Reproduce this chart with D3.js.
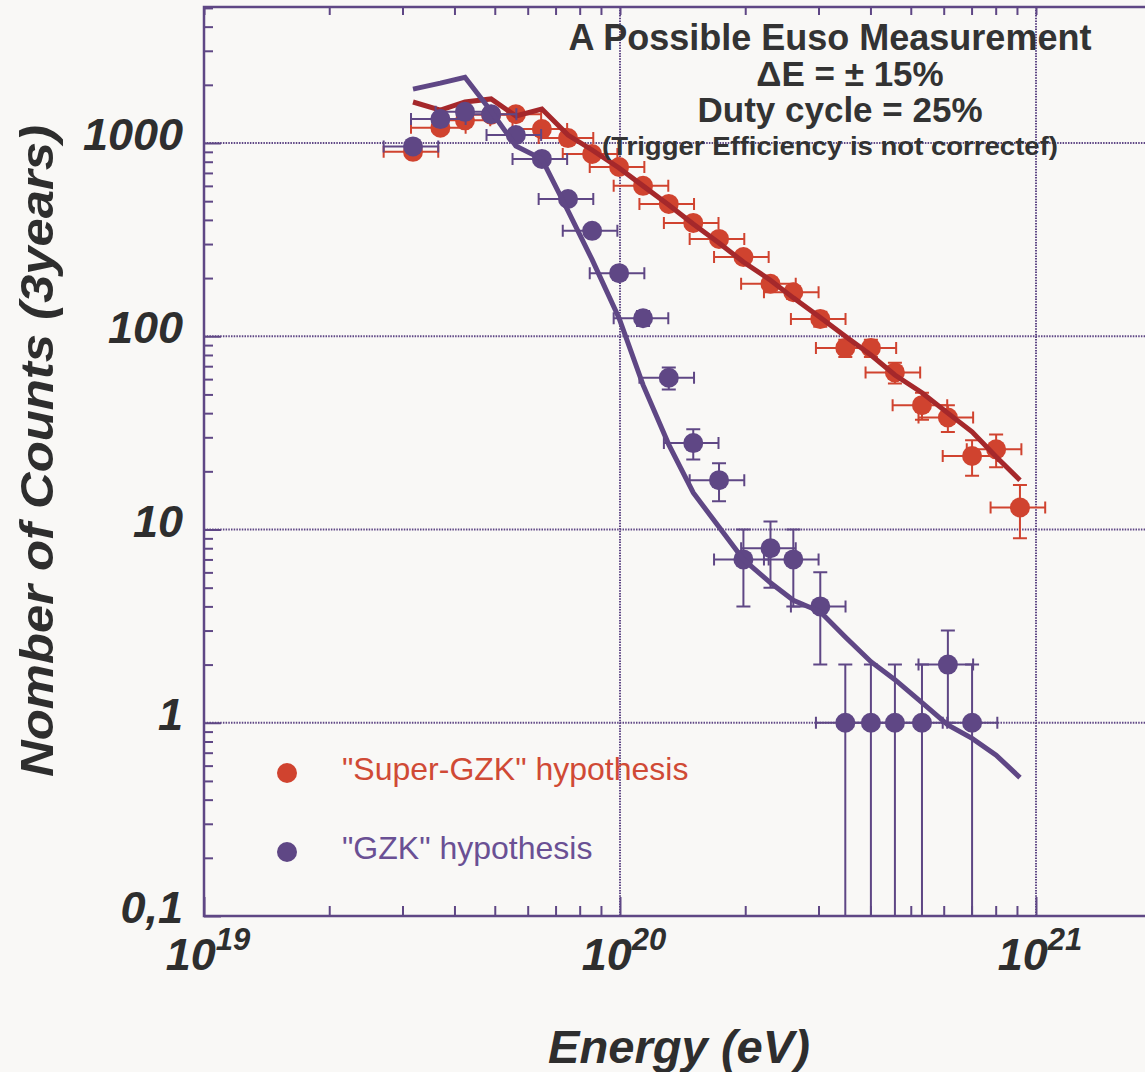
<!DOCTYPE html>
<html>
<head>
<meta charset="utf-8">
<script src="https://cdn.jsdelivr.net/npm/d3@7"></script>
<style>
    body { margin: 0; background: #f9f8f6; }
    svg { display: block; }
    text { font-family: "Liberation Sans", Arial, Helvetica, sans-serif; }
</style>
</head>
<body>
<svg id="chart" width="1145" height="1072"></svg>
<script>
// energy bins (eV)
const energyBins = [3.18e19, 3.70e19, 4.24e19, 4.90e19, 5.62e19, 6.49e19, 7.50e19, 8.57e19, 9.95e19,
    1.136e20, 1.31e20, 1.50e20, 1.73e20, 1.98e20, 2.30e20, 2.61e20, 3.03e20, 3.48e20, 4.01e20,
    4.58e20, 5.32e20, 6.14e20, 7.02e20, 8.02e20, 9.15e20];
// horizontal bars: dE = +-15%
const energyRes = [0.85, 1.15];

const superGzkCounts = [900, 1200, 1310, 1400, 1410, 1180, 1060, 877, 751, 600, 484, 386, 319,
    257, 187, 169, 123, 87, 87, 65, 44, 38, 24, 26, 13];
const superGzkErr = [30, 35, 36, 37, 38, 34, 33, 30, 27, 24, 22, 20, 18, 16, 14, 13, 11, 9, 9,
    8, 7, 6, 5, 5, 4];
const superGzkModel = [1630, 1480, 1630, 1690, 1380, 1500, 1100, 920, 742, 600, 478, 381, 304,
    242, 195, 158, 125, 100, 80, 63, 51, 40, 32, 23.8, 18];

const gzkCounts = [960, 1330, 1450, 1410, 1100, 827, 513, 351, 212, 124, 61, 28, 18, 7, 8, 7,
    4, 1, 1, 1, 1, 2, 1];
const gzkErr = [31, 36, 38, 38, 33, 29, 23, 19, 15, 11, 8, 5, 4, 3, 3, 3, 2, 1, 1, 1, 1, 1, 1];
const gzkModel = [1900, 2040, 2190, 1460, 965, 826, 445, 249, 124, 56, 27.5, 15.5, 10.3, 7.0,
    5.3, 4.3, 3.75, 2.78, 2.07, 1.67, 1.27, 0.975, 0.83, 0.68, 0.52];

const yTickValues = [0.1, 1, 10, 100, 1000];
const yTickLabels = ['0,1', '1', '10', '100', '1000'];
const xTickValues = [1e19, 1e20, 1e21];
const xTickExponents = ['19', '20', '21'];

const titleLines = ['A Possible Euso Measurement', '\u0394E = \u00b1 15%', 'Duty cycle = 25%'];
const noteText = '(Trigger Efficiency is not correctef)';
const legendLabels = ['"Super-GZK" hypothesis', '"GZK" hypothesis'];

const W = 1145, H = 1072;
const plotLeft = 204, plotTop = 7, plotBottom = 916;

const purple = '#5f4785';
const red = '#d0432f';
const darkRed = '#a5282b';
const ink = '#2e2e2e';

const svg = d3.select('#chart');

const x = d3.scaleLog().domain([1e19, 1e21]).range([204, 1036]);
const y = d3.scaleLog().domain([0.1, 1000]).range([916, 143]);

const isMajor = v => Math.abs(Math.log10(v) - Math.round(Math.log10(v))) < 1e-6;

// minor + major tick values
let xTicks = [];
for (let d = 19; d <= 21; d++) {
    for (let k = 1; k <= 9; k++) {
        let v = k * Math.pow(10, d);
        if (x(v) <= W) xTicks.push(v);
    }
}
let yTicks = [];
for (let d = -1; d <= 3; d++) {
    for (let k = 1; k <= 9; k++) {
        let v = k * Math.pow(10, d);
        if (y(v) >= plotTop) yTicks.push(v);
    }
}

// dotted grid
svg.append('g')
    .selectAll('line')
    .data(yTickValues.filter(v => v > 0.1))
    .join('line')
    .attr('x1', plotLeft).attr('x2', W)
    .attr('y1', d => y(d)).attr('y2', d => y(d))
    .attr('stroke', purple).attr('stroke-width', 2)
    .attr('stroke-dasharray', '1.5,1.2');

svg.append('g')
    .selectAll('line')
    .data(xTickValues.filter(v => v > 1e19))
    .join('line')
    .attr('x1', d => x(d)).attr('x2', d => x(d))
    .attr('y1', plotTop).attr('y2', plotBottom)
    .attr('stroke', purple).attr('stroke-width', 2)
    .attr('stroke-dasharray', '1.5,1.2');

// axes (ticks pointing inward)
let bottomAxis = svg.append('g')
    .attr('transform', `translate(0,${plotBottom})`)
    .call(d3.axisBottom(x).tickValues(xTicks).tickSizeInner(-10).tickSizeOuter(0).tickFormat(''));
bottomAxis.selectAll('.tick line').attr('y2', d => isMajor(d) ? -19 : -10);

let topAxis = svg.append('g')
    .attr('transform', `translate(0,${plotTop})`)
    .call(d3.axisTop(x).tickValues(xTicks).tickSizeInner(-8).tickSizeOuter(0).tickFormat(''));

let leftAxis = svg.append('g')
    .attr('transform', `translate(${plotLeft},0)`)
    .call(d3.axisLeft(y).tickValues(yTicks).tickSizeInner(-9).tickSizeOuter(0).tickFormat(''));
leftAxis.selectAll('.tick line').attr('x2', d => isMajor(d) ? 17 : 9);

[bottomAxis, topAxis, leftAxis].forEach(a => {
    a.select('.domain').remove();
    a.selectAll('.tick line').attr('stroke', purple).attr('stroke-width', 2);
});

// frame lines
svg.append('path')
    .attr('d', `M${W},${plotTop}H${plotLeft}V${plotBottom}H${W}`)
    .attr('fill', 'none')
    .attr('stroke', purple)
    .attr('stroke-width', 2.5);

// tick labels
svg.append('g')
    .selectAll('text')
    .data(yTickValues)
    .join('text')
    .attr('x', 183)
    .attr('y', d => y(d) + 7)
    .attr('text-anchor', 'end')
    .attr('font-size', 45)
    .attr('font-weight', 'bold')
    .attr('font-style', 'italic')
    .attr('fill', ink)
    .text((d, i) => yTickLabels[i]);

let xLabels = svg.append('g')
    .selectAll('text')
    .data(xTickValues)
    .join('text')
    .attr('x', d => x(d) + 4)
    .attr('y', 970)
    .attr('text-anchor', 'middle')
    .attr('font-size', 45)
    .attr('font-weight', 'bold')
    .attr('font-style', 'italic')
    .attr('fill', ink);
xLabels.append('tspan').text('10');
xLabels.append('tspan')
    .attr('dy', -20)
    .attr('font-size', 31)
    .text((d, i) => xTickExponents[i]);

// axis titles
svg.append('text')
    .attr('transform', 'translate(53,451) rotate(-90)')
    .attr('text-anchor', 'middle')
    .attr('font-size', 46)
    .attr('font-weight', 'bold')
    .attr('font-style', 'italic')
    .attr('fill', ink)
    .attr('textLength', 652)
    .attr('lengthAdjust', 'spacingAndGlyphs')
    .text('Nomber of Counts (3years)');

svg.append('text')
    .attr('x', 548)
    .attr('y', 1063)
    .attr('font-size', 46)
    .attr('font-weight', 'bold')
    .attr('font-style', 'italic')
    .attr('fill', ink)
    .attr('textLength', 262)
    .attr('lengthAdjust', 'spacingAndGlyphs')
    .text('Energy (eV)');

// plot area clip
svg.append('clipPath').attr('id', 'plotClip')
    .append('rect')
    .attr('x', plotLeft).attr('y', plotTop)
    .attr('width', W - plotLeft).attr('height', plotBottom - plotTop);

let plot = svg.append('g').attr('clip-path', 'url(#plotClip)');

let modelLine = d3.line()
    .x(d => x(d.e))
    .y(d => y(d.v));

function drawSeries(counts, errs, model, dotColor, lineColor) {
    let pts = counts.map((c, i) => ({e: energyBins[i], v: c, err: errs[i]}));
    let bars = plot.append('g')
        .attr('stroke', dotColor)
        .attr('stroke-width', 2)
        .attr('fill', 'none');

    // energy bars
    bars.selectAll('.hbar')
        .data(pts)
        .join('path')
        .attr('class', 'hbar')
        .attr('d', d => {
            let yy = y(d.v), xl = x(d.e * energyRes[0]), xr = x(d.e * energyRes[1]);
            return `M${xl},${yy}H${xr}M${xl},${yy - 6}V${yy + 6}M${xr},${yy - 6}V${yy + 6}`;
        });

    // count bars
    bars.selectAll('.vbar')
        .data(pts)
        .join('path')
        .attr('class', 'vbar')
        .attr('d', d => {
            let xx = x(d.e);
            let yt = y(d.v + d.err);
            let lo = d.v - d.err;
            let path = `M${xx - 7},${yt}H${xx + 7}M${xx},${yt}`;
            if (lo > 0.1) {
                let yb = y(lo);
                path += `V${yb}M${xx - 7},${yb}H${xx + 7}`;
            } else {
                path += `V${plotBottom + 2}`;
            }
            return path;
        });

    plot.append('g')
        .selectAll('circle')
        .data(pts)
        .join('circle')
        .attr('cx', d => x(d.e))
        .attr('cy', d => y(d.v))
        .attr('r', 10)
        .attr('fill', dotColor);

    plot.append('path')
        .datum(model.map((v, i) => ({e: energyBins[i], v: v})))
        .attr('d', modelLine)
        .attr('fill', 'none')
        .attr('stroke', lineColor)
        .attr('stroke-width', 5)
        .attr('stroke-linejoin', 'miter');
}

drawSeries(superGzkCounts, superGzkErr, superGzkModel, red, darkRed);
drawSeries(gzkCounts, gzkErr, gzkModel, purple, purple);

// title block
const titleX = [830, 850, 840];
const titleY = [50, 86, 122];
svg.append('g')
    .selectAll('text')
    .data(titleLines)
    .join('text')
    .attr('x', (d, i) => titleX[i])
    .attr('y', (d, i) => titleY[i])
    .attr('text-anchor', 'middle')
    .attr('font-size', (d, i) => i === 0 ? 36 : 35)
    .attr('font-weight', 'bold')
    .attr('fill', '#333333')
    .text(d => d);

svg.append('text')
    .attr('x', 830)
    .attr('y', 155)
    .attr('text-anchor', 'middle')
    .attr('font-size', 25)
    .attr('font-weight', 'bold')
    .attr('fill', '#333333')
    .attr('textLength', 456)
    .attr('lengthAdjust', 'spacingAndGlyphs')
    .text(noteText);

// legend
const legendColors = [red, purple];
const legendTextColors = ['#d04a35', '#6a5094'];
let legend = svg.append('g')
    .selectAll('g')
    .data(legendLabels)
    .join('g')
    .attr('transform', (d, i) => `translate(287,${773 + i * 79})`);
legend.append('circle')
    .attr('r', 10)
    .attr('fill', (d, i) => legendColors[i]);
legend.append('text')
    .attr('x', 55)
    .attr('y', 7)
    .attr('font-size', 32)
    .attr('fill', (d, i) => legendTextColors[i])
    .text(d => d);
</script>
</body>
</html>
